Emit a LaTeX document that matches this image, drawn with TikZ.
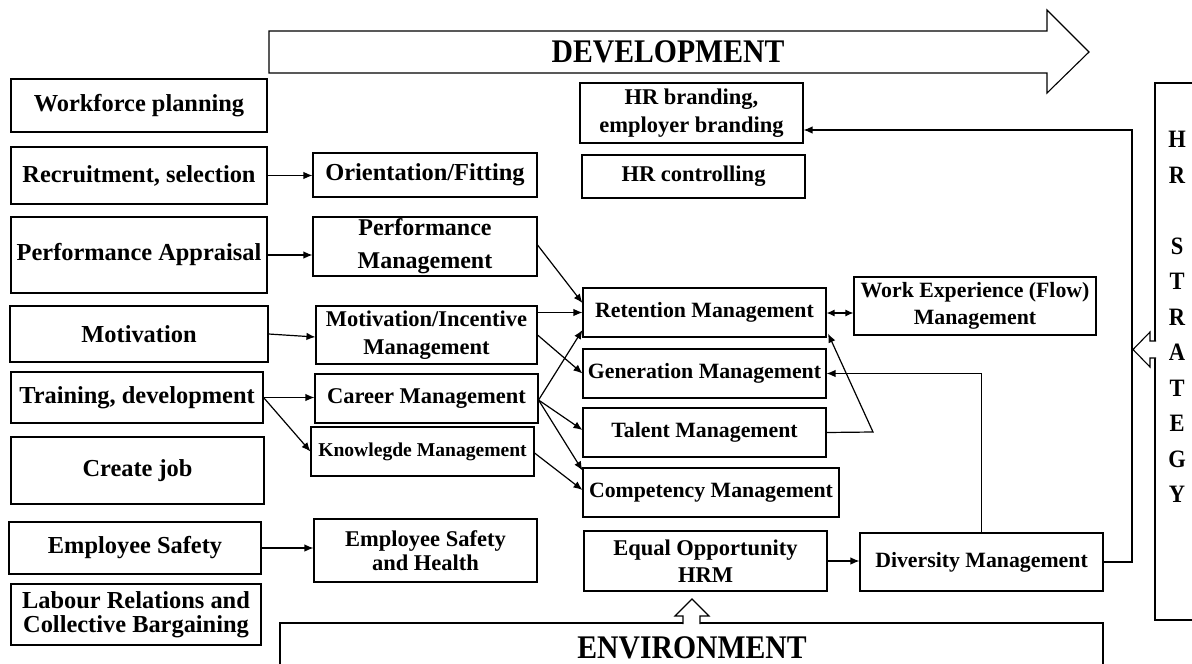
\documentclass[tikz,border=0pt]{standalone}
\usepackage{fontspec}
\setmainfont{Liberation Serif}
\newfontfamily\bigserif{Liberation Serif}[FakeStretch=0.9]
\usetikzlibrary{arrows.meta,calc}
\begin{document}
\begin{tikzpicture}[x=1pt,y=-1pt,
  box/.style={draw, line width=1.1pt, inner sep=0pt, align=center},
  wh/.style 2 args={minimum width=#1pt, minimum height=#2pt},
  fl/.style={font=\bfseries\fontsize{24.4}{29}\selectfont},
  fm/.style={font=\bfseries\fontsize{22.5}{28}\selectfont},
  fr/.style={font=\bfseries\fontsize{21.8}{27}\selectfont},
  fk/.style={font=\bfseries\fontsize{19.6}{24}\selectfont},
  conn/.style={line width=1.2pt, -{Latex[length=9pt,width=7.5pt]}},
  hollow/.style={draw, line width=1.1pt, fill=white, line join=miter}
]
\useasboundingbox (0,0) rectangle (1192,664);
\fill[white] (0,0) rectangle (1192,664);
\clip (0,0) rectangle (1192,664);

% development arrow
\draw[hollow] (269,31) -- (1047,31) -- (1047,10) -- (1089,52) -- (1047,93) -- (1047,73) -- (269,73) -- cycle;
\node[font=\bigserif\bfseries\fontsize{33}{36}\selectfont] (dev) at (668,52) {DEVELOPMENT};

% left column
\node[box,fl,wh={256}{53}] (wf) at (139,105.5) {Workforce planning};
\node[box,fl,wh={256}{57}] (rs) at (139,175.5) {Recruitment, selection};
\node[box,fl,wh={256}{76}] (pa) at (139,255) {Performance Appraisal};
\node[box,fl,wh={258}{56}] (mo) at (139,334) {Motivation};
\node[box,fl,wh={252}{51}] (td) at (137,397.5) {Training, development};
\node[box,fl,wh={253}{67}] (cj) at (137.5,470.5) {Create job};
\node[box,fl,wh={252}{52}] (es) at (135,548) {Employee Safety};
\node[box,wh={250}{61},font=\bfseries\fontsize{24.4}{24}\selectfont] (lr) at (136,614.5) {Labour Relations and\\Collective Bargaining};

% middle column
\node[box,fl,wh={224}{44}] (of) at (425,175) {Orientation/Fitting};
\node[box,wh={224}{59},font=\bfseries\fontsize{24}{33}\selectfont] (pm) at (425,246.5) {Performance\\Management};
\node[box,fm,wh={221}{58}] (mi) at (426.5,335) {Motivation/Incentive\\Management};
\node[box,fm,wh={223}{49}] (cm) at (426.5,398.5) {Career Management};
\node[box,fk,wh={223}{49}] (km) at (422.5,451.5) {Knowlegde Management};
\node[box,wh={223}{63},font=\bfseries\fontsize{22.5}{24}\selectfont] (esh) at (425.5,550.5) {Employee Safety\\and Health};

% right part
\node[box,fm,wh={223}{60}] (hrb) at (691.5,113) {HR branding,\\employer branding};
\node[box,fm,wh={223}{43}] (hrc) at (693.5,176.5) {HR controlling};
\node[box,fr,wh={243}{49}] (ret) at (704.5,312.5) {Retention Management};
\node[box,fr,wh={243}{49}] (gen) at (704.5,373.5) {Generation Management};
\node[box,fr,wh={243}{49}] (tal) at (704.5,432.5) {Talent Management};
\node[box,fr,wh={256}{49}] (com) at (711,492.5) {Competency Management};
\node[box,wh={243}{60},font=\bfseries\fontsize{22.5}{27}\selectfont] (eq) at (705.5,561) {Equal Opportunity\\HRM};
\node[box,fr,wh={242}{58}] (wex) at (975,306) {Work Experience (Flow)\\Management};
\node[box,fr,wh={243}{58}] (div) at (981.5,562) {Diversity Management};

% HR strategy box
\draw[line width=1.1pt] (1200,83) -- (1155,83) -- (1155,620) -- (1200,620);
\node[align=center, font=\bigserif\bfseries\fontsize{25}{35.5}\selectfont, anchor=north] (hrs) at (1177,128) {H\\R\\[35.5pt]S\\T\\R\\A\\T\\E\\G\\Y};
\draw[hollow] (1156,341) -- (1150,341) -- (1150,332) -- (1133,349.5) -- (1150,367) -- (1150,358) -- (1156,358);
\fill[white] (1153,342) rectangle (1157,357);

% environment
\draw[line width=1.1pt] (280,700) -- (280,623) -- (1103,623) -- (1103,700);
\node[font=\bigserif\bfseries\fontsize{33}{36}\selectfont] (env) at (692,648) {ENVIRONMENT};
\draw[hollow] (683,624) -- (683,616) -- (675,616) -- (692,599) -- (709,616) -- (700,616) -- (700,624);
\fill[white] (684,621) rectangle (699,625);

% connectors left -> middle
\draw[conn] (rs.east) -- (rs.east -| of.west);
\draw[conn] (pa.east) -- (pa.east -| pm.west);
\draw[conn] (mo.east) -- ([yshift=-2pt]mi.west);
\draw[conn] (td.east) -- (td.east -| cm.west);
\draw[conn] (td.east) -- (km.west);
\draw[conn] (es.east) -- (es.east -| esh.west);

% middle -> right
\draw[conn] ([yshift=1.5pt]pm.east) -- ([yshift=9.5pt]ret.west);
\draw[conn] (mi.east |- ret.west) -- (ret.west);
\draw[conn] (mi.east) -- (gen.west);
\draw[conn] ([yshift=-1.5pt]cm.east) -- ([yshift=-17.5pt]ret.west);
\draw[conn] ([yshift=-1.5pt]cm.east) -- ([yshift=2.5pt]tal.west);
\draw[conn] ([yshift=-1.5pt]cm.east) -- ([yshift=22pt]com.west);
\draw[conn] ([yshift=-1.5pt]km.east) -- ([yshift=2.5pt]com.west);

% right side
\draw[line width=1.2pt, {Latex[length=8pt,width=7pt]}-{Latex[length=8pt,width=7pt]}] ([yshift=-0.5pt]ret.east) -- ([yshift=-0.5pt]ret.east -| wex.west);
\coordinate (tk) at (873,432);
\draw[conn] (tal.east) -- (tk) -- ([xshift=1.5pt,yshift=4pt]ret.south east);
\draw[conn] (div.north) -- (div.north |- gen.east) -- (gen.east);
\draw[conn] (eq.east) -- (eq.east -| div.west);
\coordinate (sk) at (1132,130);
\draw[conn] (div.east) -- (div.east -| sk) -- (sk) -- (sk -| hrb.east);
\end{tikzpicture}
\end{document}
